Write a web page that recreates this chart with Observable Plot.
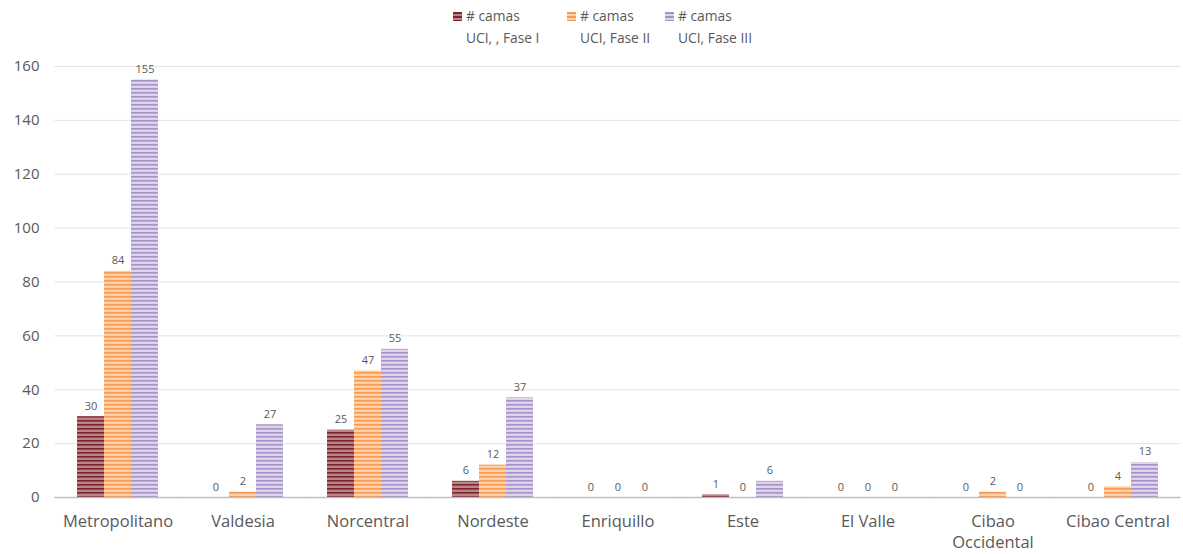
<!DOCTYPE html>
<html><head><meta charset="utf-8">
<script src="https://cdn.jsdelivr.net/npm/d3@7"></script>
<script src="https://cdn.jsdelivr.net/npm/@observablehq/plot@0.6"></script>
<style>
body{margin:0;background:#fff;font-family:"Open Sans","Liberation Sans",sans-serif;}
#legend{position:relative;height:56px;width:1183px;color:#595959;font-size:13.8px;}
.li{position:absolute;top:5px;line-height:22px;white-space:nowrap;}
.sw{display:inline-block;width:9px;height:9px;margin-right:4px;vertical-align:0px;}
</style></head><body>
<div id="legend"></div>
<div id="chart"></div>
<script>
const regions = ["Metropolitano","Valdesia","Norcentral","Nordeste","Enriquillo","Este","El Valle","Cibao Occidental","Cibao Central"];
const regionLabels = ["Metropolitano","Valdesia","Norcentral","Nordeste","Enriquillo","Este","El Valle","Cibao\nOccidental","Cibao Central"];
const series = ["# camas UCI, , Fase I","# camas UCI, Fase II","# camas UCI, Fase III"];
const legendLine1 = ["# camas","# camas","# camas"];
const legendLine2 = ["UCI, , Fase I","UCI, Fase II","UCI, Fase III"];
const faseI   = [30, 0, 25, 6, 0, 1, 0, 0, 0];
const faseII  = [84, 2, 47, 12, 0, 0, 0, 2, 4];
const faseIII = [155, 27, 55, 37, 0, 6, 0, 0, 13];
const yTicks = [0,20,40,60,80,100,120,140,160];
const darkColors = ["#7d2430","#f59a52","#a592c6"];
const lightColors = ["#b98585","#fcd2ad","#ddd4ea"];

const data = [];
regions.forEach((r,i)=>{
  data.push({region:r, s:series[0], v:faseI[i]});
  data.push({region:r, s:series[1], v:faseII[i]});
  data.push({region:r, s:series[2], v:faseIII[i]});
});

// legend
const leg = document.getElementById("legend");
const legX = [453, 567, 665];
series.forEach((s,i)=>{
  const d = document.createElement("div");
  d.className="li"; d.style.left=legX[i]+"px";
  d.innerHTML = `<span class="sw" style="background:repeating-linear-gradient(${darkColors[i]} 0 2px, ${lightColors[i]} 2px 4px)"></span>${legendLine1[i]}<br><span style="padding-left:13px">${legendLine2[i]}</span>`;
  leg.appendChild(d);
});

const gapInset = -22.5;
const chart = Plot.plot({
  width: 1183,
  height: 498,
  marginTop: 10,
  marginBottom: 57,
  marginLeft: 52,
  marginRight: 0,
  style: {fontFamily: "'Open Sans','Liberation Sans',sans-serif", color:"#595959", background:"#fff", overflow:"visible"},
  fx: {domain: regions, paddingInner: 0.35, paddingOuter: 0.17, label: null},
  x: {domain: series, padding: 0, axis: null},
  y: {domain: [0,160], ticks: yTicks, label: null},
  color: {domain: series, range: ["url(#pat0)","url(#pat1)","url(#pat2)"]},
  marks: [
    Plot.ruleY(yTicks, {stroke:"#e3e3e3", strokeWidth:1, insetLeft:gapInset, insetRight:gapInset}),
    Plot.axisY(yTicks, {tickSize:0, tickPadding:38, fontSize:15, fill:"#595959"}),
    Plot.axisFx({anchor:"bottom", tickSize:0, tickPadding:15, fontSize:16.5, fill:"#595959", tickFormat: d => regionLabels[regions.indexOf(d)], lineHeight:1.27}),
    Plot.barY(data, {fx:"region", x:"s", y:"v", fill:"s", inset:0}),
    Plot.ruleY([0], {stroke:"#bfbfbf", strokeWidth:1.5, insetLeft:gapInset, insetRight:gapInset}),
    Plot.text(data, {fx:"region", x:"s", y:"v", text: d => String(d.v), dy:-7, lineAnchor:"bottom", fontSize:11, fill:"#595959"})
  ]
});

// patterns
const ns = "http://www.w3.org/2000/svg";
const defs = document.createElementNS(ns, "defs");
darkColors.forEach((c,i)=>{
  const p = document.createElementNS(ns,"pattern");
  p.setAttribute("id","pat"+i); p.setAttribute("patternUnits","userSpaceOnUse");
  p.setAttribute("width","8"); p.setAttribute("height","4");
  const r1 = document.createElementNS(ns,"rect");
  r1.setAttribute("width","8"); r1.setAttribute("height","4"); r1.setAttribute("fill",lightColors[i]);
  const r2 = document.createElementNS(ns,"rect");
  r2.setAttribute("width","8"); r2.setAttribute("height","1.6"); r2.setAttribute("fill",c);
  p.appendChild(r1); p.appendChild(r2); defs.appendChild(p);
});
chart.insertBefore(defs, chart.firstChild);
document.getElementById("chart").appendChild(chart);
</script>
</body></html>
